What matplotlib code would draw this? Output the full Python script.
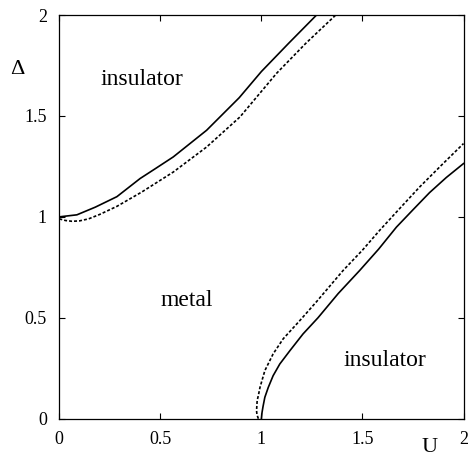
import matplotlib
matplotlib.use("Agg")
import matplotlib.pyplot as plt

# Upper boundary (solid)
u_up_solid = [0.0, 0.087, 0.178, 0.285, 0.400, 0.474, 0.564, 0.729, 0.890, 1.000, 1.135, 1.273]
d_up_solid = [1.0, 1.010, 1.048, 1.100, 1.190, 1.238, 1.297, 1.429, 1.590, 1.720, 1.860, 2.000]

# Upper boundary (dashed)
u_up_dash = [0.0, 0.03, 0.063, 0.10, 0.145, 0.20, 0.285, 0.408, 0.564, 0.729, 0.894, 1.075, 1.22, 1.368]
d_up_dash = [0.99, 0.982, 0.978, 0.980, 0.990, 1.012, 1.052, 1.123, 1.222, 1.346, 1.495, 1.711, 1.86, 2.0]

# Lower boundary (solid)
u_lo_solid = [1.0, 1.003, 1.008, 1.017, 1.034, 1.058, 1.091, 1.141, 1.206, 1.280, 1.380,
              1.486, 1.580, 1.668, 1.750, 1.832, 1.915, 2.0]
d_lo_solid = [0.0, 0.030, 0.060, 0.106, 0.155, 0.213, 0.271, 0.337, 0.420, 0.500, 0.620,
              0.734, 0.840, 0.949, 1.035, 1.120, 1.195, 1.264]

# Lower boundary (dashed)
u_lo_dash = [0.985, 0.978, 0.976, 0.979, 0.986, 0.993, 1.017, 1.058, 1.108, 1.190, 1.273,
             1.404, 1.500, 1.585, 1.683, 1.783, 1.890, 2.0]
d_lo_dash = [0.0, 0.020, 0.040, 0.089, 0.120, 0.155, 0.238, 0.321, 0.396, 0.486, 0.580,
             0.734, 0.835, 0.933, 1.040, 1.148, 1.255, 1.363]

ticks = [0, 0.5, 1, 1.5, 2]
tick_labels = ["0", "0.5", "1", "1.5", "2"]

plt.rcParams['font.family'] = ['Liberation Serif', 'DejaVu Serif']

fig = plt.figure(figsize=(4.72, 4.58), dpi=100)
ax = fig.add_axes([59.3 / 472, 1 - 418.7 / 458, (463.5 - 59.3) / 472, (418.7 - 15) / 458])

ax.plot(u_up_solid, d_up_solid, color='black', lw=1.2, solid_joinstyle='round')
ax.plot(u_up_dash, d_up_dash, color='black', lw=1.2, linestyle=(0, (1.8, 1.2)))
ax.plot(u_lo_solid, d_lo_solid, color='black', lw=1.2, solid_joinstyle='round')
ax.plot(u_lo_dash, d_lo_dash, color='black', lw=1.2, linestyle=(0, (1.8, 1.2)))

ax.set_xlim(0, 2)
ax.set_ylim(0, 2)
ax.set_xticks(ticks)
ax.set_xticklabels(tick_labels)
ax.set_yticks(ticks)
ax.set_yticklabels(tick_labels)
ax.tick_params(direction='in', length=4.5, width=0.8, top=True, right=True,
               labelsize=13)
ax.tick_params(axis='x', pad=8.5)
ax.tick_params(axis='y', pad=9)
for s in ax.spines.values():
    s.set_linewidth(0.9)

ax.text(0.409, 1.653, "insulator", fontsize=17, ha='center', va='baseline')
ax.text(0.632, 0.558, "metal", fontsize=17, ha='center', va='baseline')
ax.text(1.613, 0.261, "insulator", fontsize=17, ha='center', va='baseline')

fig.text(17.8 / 472, 1 - 69 / 458, "\u0394", fontsize=16, ha='center', va='center')
fig.text(429.5 / 472, 1.0 / 458, "U", fontsize=16, ha='center', va='bottom')

fig.savefig("out.png", dpi=100)
